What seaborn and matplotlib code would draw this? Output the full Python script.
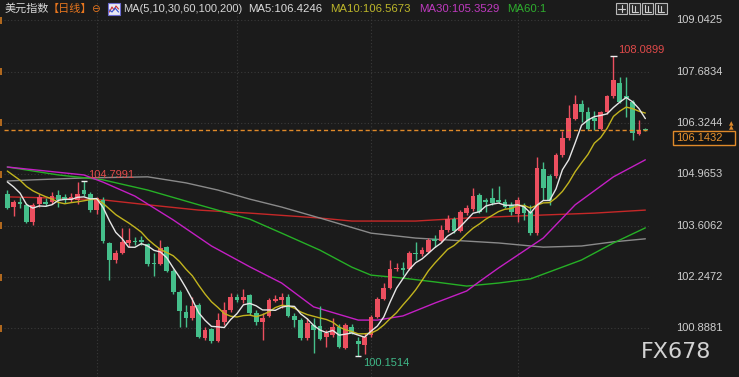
import numpy as np
import pandas as pd
import matplotlib
matplotlib.use("Agg")
import matplotlib.pyplot as plt
import seaborn as sns
from matplotlib.patches import Rectangle
from matplotlib.lines import Line2D

# ---------------- data (daily candles, US dollar index) ----------------
opens = [104.45, 104.10, 104.23, 104.16, 103.71, 104.18, 104.23, 104.23, 104.42, 104.37,
         104.29, 104.29, 104.55, 104.45, 104.02, 104.29, 103.15, 102.70, 102.89, 103.15,
         103.20, 103.23, 103.12, 102.62, 102.59, 103.04, 102.41, 101.85, 101.32, 101.17,
         101.51, 100.64, 100.87, 100.56, 101.06, 101.38, 101.72, 101.64, 101.77, 101.30,
         101.06, 101.22, 101.62, 101.64, 101.72, 101.22, 101.11, 100.64, 100.98, 100.95,
         100.66, 100.72, 100.93, 100.37, 100.93, 100.56, 100.45, 100.72, 101.19, 101.67,
         101.96, 102.46, 102.49, 102.46, 102.89, 102.86, 102.91, 103.26, 103.20, 103.49,
         103.78, 103.47, 103.94, 104.05, 104.42, 104.29, 104.34, 104.29, 104.23, 104.16,
         103.92, 104.16, 103.97, 103.41, 105.11, 104.92, 104.92, 105.48, 105.93, 106.43,
         106.83, 106.62, 106.46, 106.17, 106.62, 107.04, 107.38, 107.04, 106.88, 106.03,
         106.16]
closes = [104.08, 104.23, 104.18, 103.71, 104.16, 104.37, 104.18, 104.39, 104.29, 104.29,
          104.37, 104.45, 104.45, 104.02, 104.34, 103.20, 102.70, 102.89, 103.18, 103.23,
          103.18, 103.18, 102.59, 102.59, 103.02, 102.41, 101.85, 101.35, 101.17, 101.48,
          100.66, 100.85, 100.56, 101.11, 101.38, 101.72, 101.64, 101.72, 101.30, 101.06,
          101.17, 101.64, 101.67, 101.72, 101.22, 101.11, 100.64, 101.03, 100.85, 100.61,
          100.77, 100.93, 100.40, 100.98, 100.77, 100.48, 100.66, 101.19, 101.67, 101.96,
          102.46, 102.49, 102.44, 102.89, 102.86, 102.96, 103.23, 103.20, 103.49, 103.78,
          103.47, 103.97, 104.08, 104.39, 103.97, 104.23, 104.21, 104.23, 104.10, 103.97,
          104.29, 103.94, 103.41, 105.13, 104.60, 104.29, 105.48, 105.93, 106.46, 106.83,
          106.62, 106.17, 106.38, 106.62, 107.04, 107.46, 106.88, 106.99, 106.06, 106.13,
          106.1432]
highs = [104.55, 104.29, 104.37, 104.21, 104.21, 104.45, 104.34, 104.50, 104.55, 104.45,
         104.47, 104.76, 104.7991, 104.50, 104.37, 104.37, 103.18, 102.96, 103.55, 103.55,
         103.31, 103.34, 103.15, 102.89, 103.23, 103.07, 102.46, 101.91, 101.51, 101.72,
         101.56, 100.93, 100.90, 101.30, 101.59, 101.83, 101.80, 101.93, 101.80, 101.38,
         101.30, 101.69, 101.77, 101.83, 101.80, 101.30, 101.17, 101.17, 101.17, 101.48,
         100.85, 101.17, 101.01, 101.03, 101.01, 100.66, 100.77, 101.25, 101.72, 102.09,
         102.70, 102.62, 102.65, 102.94, 103.18, 103.04, 103.28, 103.36, 103.63, 103.89,
         103.84, 104.02, 104.16, 104.60, 104.47, 104.34, 104.60, 104.66, 104.31, 104.23,
         104.37, 104.21, 104.16, 105.42, 105.29, 104.98, 105.53, 106.11, 106.80, 107.07,
         106.93, 106.75, 106.64, 106.64, 107.07, 108.0899, 107.54, 107.54, 106.93, 106.40,
         106.20]
lows = [104.05, 103.86, 104.08, 103.68, 103.63, 104.10, 104.13, 104.18, 104.10, 104.21,
        104.23, 104.18, 104.39, 103.97, 103.92, 103.15, 102.17, 102.62, 102.86, 103.04,
        103.10, 103.10, 102.54, 102.28, 102.57, 102.38, 101.80, 100.93, 100.93, 101.11,
        100.64, 100.58, 100.50, 100.53, 100.98, 101.32, 101.59, 101.56, 101.25, 100.98,
        100.58, 101.19, 101.59, 101.43, 101.19, 100.93, 100.58, 100.58, 100.24, 100.58,
        100.40, 100.66, 100.37, 100.35, 100.74, 100.1514, 100.21, 100.66, 101.17, 101.64,
        101.93, 102.41, 102.30, 102.44, 102.70, 102.81, 102.89, 103.04, 103.18, 103.44,
        103.41, 103.44, 103.89, 104.00, 103.94, 103.97, 104.16, 104.21, 104.08, 103.89,
        103.71, 103.76, 103.36, 103.36, 104.29, 104.16, 104.87, 105.42, 105.87, 106.40,
        106.35, 106.14, 106.14, 106.14, 106.56, 106.99, 106.85, 106.48, 105.87, 106.01,
        106.12]
# closes of the sessions just before the window (seed for MA5 / MA10)
prior_closes = [105.45, 105.40, 105.35, 105.30, 105.20, 104.90, 105.00, 105.20, 104.65]

# longer moving averages (candle index, value)
ma30_idx = [0, 12, 15, 20, 26, 32, 38, 43, 48, 55, 58, 62, 67, 72, 74, 77, 84, 89, 95, 100]
ma30_val = [105.16, 104.95, 104.76, 104.39, 103.76, 103.07, 102.52, 102.09, 101.46, 101.11,
            101.11, 101.22, 101.56, 101.88, 102.13, 102.49, 103.28, 104.16, 104.90, 105.35]
ma60_idx = [0, 8, 15, 22, 30, 38, 43, 49, 54, 57, 62, 67, 72, 77, 82, 90, 95, 100]
ma60_val = [105.16, 104.95, 104.82, 104.55, 104.16, 103.78, 103.41, 102.96, 102.51, 102.30,
            102.22, 102.12, 102.01, 102.09, 102.20, 102.70, 103.15, 103.55]
ma100_idx = [0, 4, 12, 22, 28, 33, 38, 43, 49, 57, 64, 72, 77, 84, 90, 95, 100]
ma100_val = [104.79, 104.82, 104.87, 104.90, 104.74, 104.55, 104.31, 104.10, 103.81, 103.41,
             103.28, 103.20, 103.15, 103.04, 103.07, 103.18, 103.26]
ma200_idx = [0, 7, 15, 22, 30, 38, 49, 54, 64, 72, 84, 92, 100]
ma200_val = [104.37, 104.34, 104.29, 104.16, 104.02, 103.94, 103.81, 103.73, 103.73, 103.81,
             103.89, 103.94, 104.02]

month_start_idx = [14, 36, 57, 80]
ytick_vals = [109.0425, 107.6834, 106.3244, 104.9653, 103.6062, 102.2472, 100.8881]
ytick_labels = ["109.0425", "107.6834", "106.3244", "104.9653", "103.6062", "102.2472", "100.8881"]
last_price = 106.1432
max_idx, max_label = 95, "108.0899"
pk_idx, pk_label = 12, "104.7991"
min_idx, min_label = 55, "100.1514"

# ---------------- styling ----------------
BG = "#1b1b1b"
UP = "#ec4f5f"
DOWN = "#45bf8b"
sns.set_theme(style="dark", rc={"axes.facecolor": BG, "figure.facecolor": BG})
plt.rcParams["font.family"] = ["Liberation Sans", "DejaVu Sans"]

W, H = 739, 377
fig = plt.figure(figsize=(W / 100, H / 100), dpi=100)
fig.patch.set_facecolor(BG)
ax = fig.add_axes([4 / W, 0, 646 / W, 1])
ax.set_facecolor(BG)
for s in ax.spines.values():
    s.set_visible(False)
ax.set_xlim(-0.52, 100.73)
ax.set_ylim(109.578 - H / 37.8, 109.578)
ax.set_xticks([])
ax.set_yticks([])


def fx(x):
    return x / W


def fy(y):
    return 1 - y / H


# grid
for v in ytick_vals:
    ax.axhline(v, color="#3a3a3a", lw=0.8, ls=(0, (1, 2)), zorder=0)
for m in month_start_idx:
    ax.axvline(m, color="#3a3a3a", lw=0.8, ls=(0, (1, 2)), zorder=0)

# moving averages
df = pd.DataFrame({"i": np.arange(len(closes)), "close": closes})
full = pd.Series(prior_closes + closes)
npre = len(prior_closes)
df["ma5"] = full.rolling(5, min_periods=1).mean().values[npre:]
df["ma10"] = full.rolling(10, min_periods=1).mean().values[npre:]

sns.lineplot(x=ma200_idx, y=ma200_val, ax=ax, color="#c62828", lw=1.0, zorder=2)
sns.lineplot(x=ma100_idx, y=ma100_val, ax=ax, color="#8a8a8a", lw=1.0, zorder=2)
sns.lineplot(x=ma60_idx, y=ma60_val, ax=ax, color="#26b026", lw=1.0, zorder=2)
sns.lineplot(x=ma30_idx, y=ma30_val, ax=ax, color="#c41fc4", lw=1.0, zorder=2)

# candles
o = np.array(opens); c = np.array(closes); h = np.array(highs); l = np.array(lows)
idx = np.arange(len(o))
cols = np.where(c >= o, UP, DOWN)
ax.vlines(idx, l, h, colors=cols, lw=1.0, zorder=3)
body = np.maximum(np.abs(c - o), 0.03)
ax.bar(idx, body, bottom=np.minimum(o, c), width=0.74, color=cols, linewidth=0, zorder=4)

sns.lineplot(data=df, x="i", y="ma10", ax=ax, color="#c2b41e", lw=1.0, zorder=5)
sns.lineplot(data=df, x="i", y="ma5", ax=ax, color="#e6e6e6", lw=1.0, zorder=6)

# last price dashed line
ax.axhline(last_price, color="#e08a2a", lw=1.0, ls=(0, (3, 2)), zorder=7)

# high / low markers
for i, v in [(max_idx, highs[max_idx]), (pk_idx, highs[pk_idx]), (min_idx, lows[min_idx])]:
    ax.hlines(v, i - 0.5, i + 0.5, colors="#f0f0f0", lw=1.0, zorder=8)
ax.text(max_idx + 0.7, highs[max_idx] + 0.17, max_label, color="#e04a4a", fontsize=8, va="center", ha="left")
ax.text(pk_idx + 0.6, highs[pk_idx] + 0.15, pk_label, color="#e04a4a", fontsize=8, va="center", ha="left")
ax.text(min_idx + 0.7, lows[min_idx] - 0.17, min_label, color="#3fb888", fontsize=8, va="center", ha="left")

ax.set_xlabel(""); ax.set_ylabel("")
if ax.get_legend():
    ax.get_legend().remove()

# right price labels
for v, t in zip(ytick_vals, ytick_labels):
    ypx = (109.578 - v) * 37.8
    fig.text(fx(676), fy(ypx), t, color="#cfcfcf", fontsize=8, va="center", ha="left")
    fig.patches.append(Rectangle((0, fy(ypx + 3.5)), fx(2), 7 / H, transform=fig.transFigure,
                                 facecolor="#b0681e", edgecolor="none"))

# last price box
ylp = (109.578 - last_price) * 37.8
fig.patches.append(Rectangle((fx(673), fy(ylp + 15.5)), fx(62), 14 / H, transform=fig.transFigure,
                             facecolor="#141414", edgecolor="#e08a2a", lw=1.0))
fig.text(fx(676), fy(ylp + 8.5), "106.1432", color="#e8922e", fontsize=8, va="center", ha="left")
fig.text(fx(731), fy(ylp - 6), "▲", color="#e08a2a", fontsize=4.2, va="center", ha="center",
         family="DejaVu Sans")
fig.text(fx(731), fy(ylp - 2.5), "▲", color="#e08a2a", fontsize=4.2, va="center", ha="center",
         family="DejaVu Sans")

# header
cjk = ["Noto Sans CJK SC", "DejaVu Sans"]
ty = fy(9)
fig.text(fx(5), ty, "美元指数", color="#d6d6d6", fontsize=8, va="center", family=cjk)
fig.text(fx(48), ty, "【日线】", color="#e8761e", fontsize=8, va="center", family=cjk)
fig.text(fx(95.5), ty, "⊖", color="#e8761e", fontsize=7.5, va="center", ha="center", family="DejaVu Sans")
fig.patches.append(Rectangle((fx(108), fy(15)), fx(12), 12 / H, transform=fig.transFigure,
                             facecolor="#e8e8f4", edgecolor="#6a6ad0", lw=0.8))
fig.lines.append(Line2D([fx(109.5), fx(112), fx(114), fx(116), fx(118.5)],
                        [fy(12), fy(7), fy(10), fy(6), fy(9)], transform=fig.transFigure,
                        color="#d03030", lw=0.8))
fig.lines.append(Line2D([fx(109.5), fx(112), fx(115), fx(118.5)],
                        [fy(10), fy(12), fy(8), fy(12)], transform=fig.transFigure,
                        color="#3050d0", lw=0.8))
fs = 8.2
fig.text(fx(123), ty, "MA(5,10,30,60,100,200)", color="#d6d6d6", fontsize=8.0, va="center")
fig.text(fx(248), ty, "MA5:106.4246", color="#dcdcdc", fontsize=fs, va="center")
fig.text(fx(330), ty, "MA10:106.5673", color="#bdb62a", fontsize=fs, va="center")
fig.text(fx(419), ty, "MA30:105.3529", color="#c03ac0", fontsize=fs, va="center")
fig.text(fx(507), ty, "MA60:1", color="#2eae2e", fontsize=fs, va="center")

# toolbar icons
for x0, w in [(616, 11), (629, 11), (642, 11), (655, 12)]:
    fig.patches.append(Rectangle((fx(x0), fy(14)), fx(w), 11 / H, transform=fig.transFigure,
                                 facecolor="#2a2a2a", edgecolor="#b8b8b8", lw=0.8))
fig.lines.append(Line2D([fx(618), fx(625)], [fy(8.5), fy(8.5)], transform=fig.transFigure, color="#d0d0d0", lw=0.8))
fig.lines.append(Line2D([fx(621.5), fx(621.5)], [fy(5), fy(12)], transform=fig.transFigure, color="#d0d0d0", lw=0.8))
for x0 in (631, 644, 657):
    fig.lines.append(Line2D([fx(x0 + 1), fx(x0 + 1), fx(x0 + 7)], [fy(5), fy(12), fy(12)],
                            transform=fig.transFigure, color="#d0d0d0", lw=0.8))
    fig.lines.append(Line2D([fx(x0 + 4), fx(x0 + 4)], [fy(6), fy(11)],
                            transform=fig.transFigure, color="#d0d0d0", lw=0.8))

# watermark
fig.text(fx(641), fy(352), "FX678", color="#d2d2d2", fontsize=16, va="center", ha="left",
         family="DejaVu Sans")

fig.savefig("out.png", dpi=100, facecolor=BG)
